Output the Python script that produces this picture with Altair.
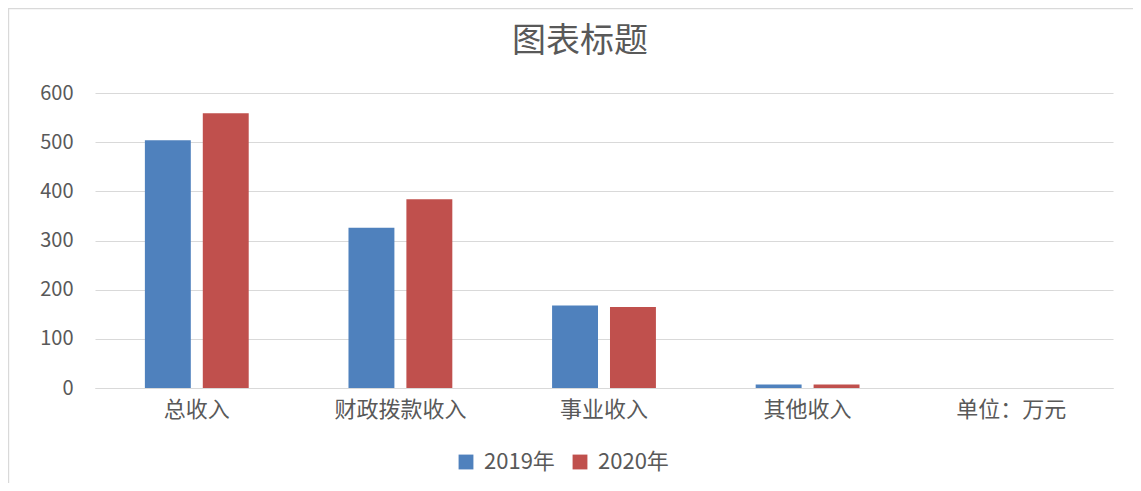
import altair as alt
import pandas as pd

categories = ["总收入", "财政拨款收入", "事业收入", "其他收入", "单位：万元"]
bar_categories = ["总收入", "财政拨款收入", "事业收入", "其他收入"]
series = ["2019年", "2020年"]
values_2019 = [504, 326, 168, 7]
values_2020 = [559, 384, 165, 7]
colors = ["#4F81BD", "#C0504D"]
chart_title = "图表标题"

rows = []
for c, v1, v2 in zip(bar_categories, values_2019, values_2020):
    rows.append({"cat": c, "year": series[0], "value": v1})
    rows.append({"cat": c, "year": series[1], "value": v2})
df = pd.DataFrame(rows)

FONT = "Noto Sans CJK SC"
TXT = "#595959"
W, H = 1018, 295

bars = alt.Chart(df).mark_bar().encode(
    x=alt.X("cat:N", sort=categories,
            scale=alt.Scale(domain=categories, paddingInner=0.49, paddingOuter=0.245),
            axis=alt.Axis(title=None, labelAngle=0, labelFontSize=22, labelColor=TXT,
                          labelFont=FONT, labelPadding=11, ticks=False,
                          domainColor="#d9d9d9", grid=False)),
    xOffset=alt.XOffset("year:N", sort=series,
                        scale=alt.Scale(paddingInner=0.207, paddingOuter=0)),
    y=alt.Y("value:Q",
            scale=alt.Scale(domain=[0, 600]),
            axis=alt.Axis(title=None, values=[0, 100, 200, 300, 400, 500, 600],
                          labelFontSize=20, labelColor=TXT, labelFont=FONT,
                          labelPadding=22, ticks=False, domain=False,
                          gridColor="#d9d9d9")),
    color=alt.Color("year:N", sort=series,
                    scale=alt.Scale(domain=series, range=colors),
                    legend=alt.Legend(title=None, orient="none", direction="horizontal",
                                      legendX=360, legendY=358,
                                      labelFontSize=22, labelColor=TXT, labelFont=FONT,
                                      symbolType="square", symbolSize=220,
                                      symbolStrokeWidth=0, columnPadding=14,
                                      labelOffset=7)),
)

frame = alt.Chart(pd.DataFrame({"f": [1]})).mark_rect(
    fill=None, stroke="#d9d9d9", strokeWidth=1.2
).encode(
    x=alt.value(-86.4), x2=alt.value(1100), y=alt.value(-84.4), y2=alt.value(430)
)

title = alt.Chart(pd.DataFrame({"t": [chart_title]})).mark_text(
    font=FONT, fontSize=34, color=TXT, align="center", baseline="middle"
).encode(
    text="t:N", x=alt.value(485), y=alt.value(-51)
)

chart = alt.layer(frame, bars, title).properties(
    width=W, height=H,
    autosize=alt.AutoSizeParams(type="none"),
    padding={"left": 87, "top": 85, "right": 20, "bottom": 95},
).configure(font=FONT).configure_view(stroke="transparent", strokeWidth=0)

chart.save("out.html", embed_options={"renderer": "svg", "actions": False})
